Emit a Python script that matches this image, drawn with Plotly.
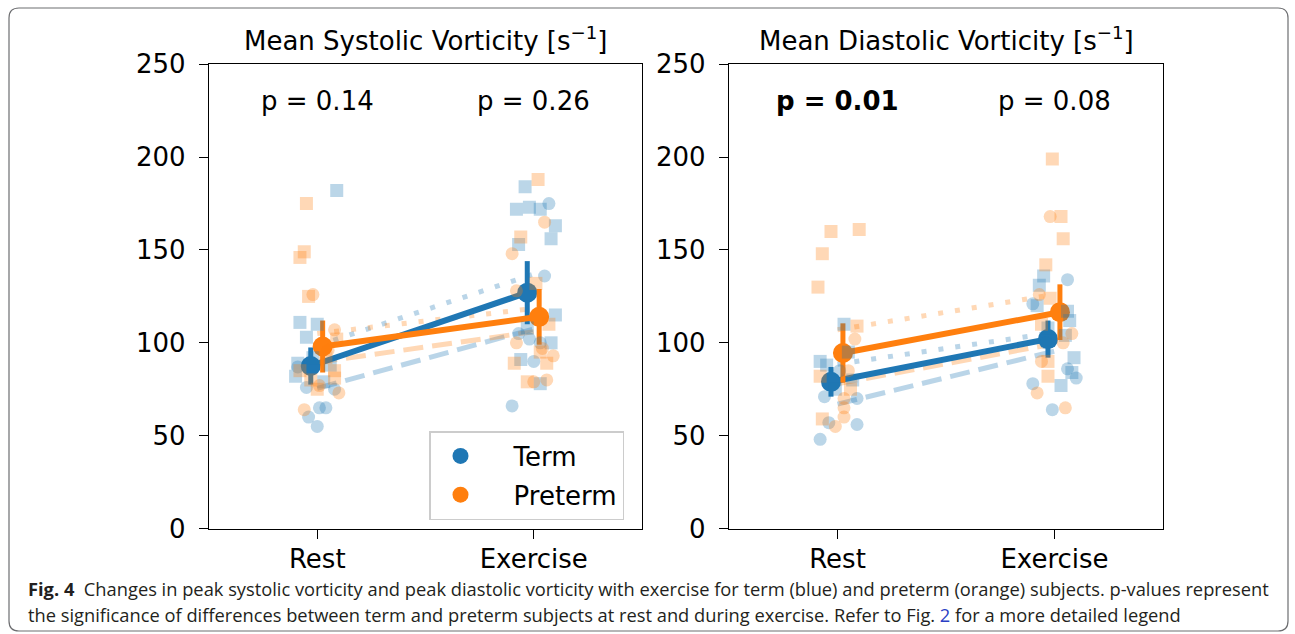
import plotly.graph_objects as go

# ---------------- data ----------------
categories = ["Rest", "Exercise"]
cat_pos = [0, 1]

# group means and error half-widths
sys_term_mean = [87.5, 127.0]
sys_term_err = [10.0, 17.0]
sys_pre_mean = [98.0, 114.0]
sys_pre_err = [14.0, 15.0]
dia_term_mean = [79.0, 102.0]
dia_term_err = [8.0, 10.0]
dia_pre_mean = [94.5, 116.5]
dia_pre_err = [16.0, 15.0]

# subgroup means (dotted = squares subgroup, dashed = circles subgroup)
sys_term_dot = [98.5, 137.0]
sys_term_dash = [75.5, 107.5]
sys_pre_dot = [105.0, 118.5]
sys_pre_dash = [89.5, 106.0]
dia_term_dot = [88.5, 105.5]
dia_term_dash = [67.0, 95.5]
dia_pre_dot = [107.0, 126.0]
dia_pre_dash = [78.0, 99.5]

# individual subjects: values and horizontal jitter (category units)
sys_rest_term_sq = [182, 111, 110, 103, 89, 82, 79, 88, 92]
sys_rest_term_sq_j = [0.09, -0.08, 0.00, -0.05, -0.09, -0.10, 0.03, 0.06, -0.02]
sys_rest_term_ci = [87, 65, 65, 60, 55, 75, 76]
sys_rest_term_ci_j = [-0.09, 0.01, 0.04, -0.04, 0.00, 0.08, -0.05]
sys_rest_pre_sq = [175, 149, 146, 125, 102, 85, 85, 81, 75, 92, 80]
sys_rest_pre_sq_j = [-0.05, -0.06, -0.08, -0.04, 0.09, -0.08, 0.08, 0.08, 0.00, 0.04, -0.03]
sys_rest_pre_ci = [126, 107, 64, 73, 77, 96]
sys_rest_pre_ci_j = [-0.02, 0.08, -0.06, 0.10, 0.01, 0.05]

sys_ex_term_sq = [184, 172, 173, 172, 163, 156, 153, 115, 100, 91, 78, 108]
sys_ex_term_sq_j = [-0.04, -0.08, -0.02, 0.03, 0.10, 0.08, -0.07, 0.10, 0.08, -0.06, 0.03, -0.03]
sys_ex_term_ci = [175, 136, 105, 102, 90, 66, 100]
sys_ex_term_ci_j = [0.07, 0.05, -0.07, -0.02, 0.00, -0.10, 0.03]
sys_ex_pre_sq = [188, 157, 132, 110, 89, 89, 79, 95]
sys_ex_pre_sq_j = [0.02, -0.06, 0.01, 0.07, -0.09, 0.06, -0.03, 0.03]
sys_ex_pre_ci = [165, 148, 128, 100, 97, 93, 79, 80]
sys_ex_pre_ci_j = [0.05, -0.10, -0.08, -0.08, 0.04, 0.09, 0.00, 0.06]

dia_rest_term_sq = [110, 90, 88, 95, 75, 80]
dia_rest_term_sq_j = [0.03, -0.08, -0.05, 0.05, -0.01, 0.07]
dia_rest_term_ci = [71, 70, 57, 56, 48, 85]
dia_rest_term_ci_j = [-0.06, 0.09, -0.04, 0.09, -0.08, 0.01]
dia_rest_pre_sq = [160, 161, 148, 130, 109, 82, 59, 75]
dia_rest_pre_sq_j = [-0.03, 0.10, -0.07, -0.09, 0.09, -0.08, -0.07, 0.06]
dia_rest_pre_ci = [102, 70, 65, 60, 55, 85]
dia_rest_pre_ci_j = [0.08, 0.03, 0.03, 0.03, -0.01, 0.05]

dia_ex_term_sq = [136, 131, 120, 117, 112, 104, 92, 77, 84, 108]
dia_ex_term_sq_j = [-0.05, -0.07, -0.08, 0.06, 0.07, 0.05, 0.09, 0.03, 0.08, -0.03]
dia_ex_term_ci = [134, 121, 86, 81, 78, 64, 100]
dia_ex_term_ci_j = [0.06, -0.10, 0.06, 0.10, -0.10, -0.01, -0.04]
dia_ex_pre_sq = [199, 168, 156, 142, 124, 90, 82, 110]
dia_ex_pre_sq_j = [-0.01, 0.03, 0.04, -0.04, -0.02, -0.03, -0.03, -0.06]
dia_ex_pre_ci = [168, 126, 105, 100, 90, 73, 65]
dia_ex_pre_ci_j = [-0.02, -0.07, 0.08, 0.04, -0.06, -0.08, 0.05]

p_labels_sys = ["p = 0.14", "p = 0.26"]
p_labels_dia = ["<b>p = 0.01</b>", "p = 0.08"]
p_label_y = 230

titles = ["Mean Systolic Vorticity [s<sup>−1</sup>]", "Mean Diastolic Vorticity [s<sup>−1</sup>]"]
legend_names = ["Term", "Preterm"]
y_ticks = [0, 50, 100, 150, 200, 250]

BLUE = "#1f77b4"
ORANGE = "#ff7f0e"
W, H = 1295, 634
FS = 26

fig = go.Figure()


def px(x):
    return x / W


def py(y):
    return 1 - y / H


def add_panel(xa, ya, term_dot, term_dash, pre_dot, pre_dash,
              term_mean, term_err, pre_mean, pre_err, pts):
    for vals, col, dash in [(term_dot, BLUE, "5px,12px"), (term_dash, BLUE, "20px,9px"),
                            (pre_dot, ORANGE, "5px,12px"), (pre_dash, ORANGE, "20px,9px")]:
        fig.add_trace(go.Scatter(x=cat_pos, y=vals, mode="lines", xaxis=xa, yaxis=ya,
                                 line=dict(color=col, width=5, dash=dash), opacity=0.3,
                                 showlegend=False, hoverinfo="skip"))
    for mean, err, col, off in [(term_mean, term_err, BLUE, -0.03), (pre_mean, pre_err, ORANGE, 0.025)]:
        fig.add_trace(go.Scatter(x=[c + off for c in cat_pos], y=mean, mode="lines+markers",
                                 xaxis=xa, yaxis=ya,
                                 line=dict(color=col, width=6),
                                 marker=dict(color=col, size=20),
                                 error_y=dict(type="data", array=err, color=col, thickness=5, width=0),
                                 showlegend=False))
    for vals, jit, cat, col, sym in pts:
        fig.add_trace(go.Scatter(x=[cat + j for j in jit], y=vals, mode="markers",
                                 xaxis=xa, yaxis=ya,
                                 marker=dict(color=col, size=13, symbol=sym, opacity=0.3,
                                             line=dict(width=0)),
                                 showlegend=False, hoverinfo="skip"))


add_panel("x", "y", sys_term_dot, sys_term_dash, sys_pre_dot, sys_pre_dash,
          sys_term_mean, sys_term_err, sys_pre_mean, sys_pre_err,
          [(sys_rest_term_sq, sys_rest_term_sq_j, 0, BLUE, "square"),
           (sys_rest_term_ci, sys_rest_term_ci_j, 0, BLUE, "circle"),
           (sys_rest_pre_sq, sys_rest_pre_sq_j, 0, ORANGE, "square"),
           (sys_rest_pre_ci, sys_rest_pre_ci_j, 0, ORANGE, "circle"),
           (sys_ex_term_sq, sys_ex_term_sq_j, 1, BLUE, "square"),
           (sys_ex_term_ci, sys_ex_term_ci_j, 1, BLUE, "circle"),
           (sys_ex_pre_sq, sys_ex_pre_sq_j, 1, ORANGE, "square"),
           (sys_ex_pre_ci, sys_ex_pre_ci_j, 1, ORANGE, "circle")])

add_panel("x2", "y2", dia_term_dot, dia_term_dash, dia_pre_dot, dia_pre_dash,
          dia_term_mean, dia_term_err, dia_pre_mean, dia_pre_err,
          [(dia_rest_term_sq, dia_rest_term_sq_j, 0, BLUE, "square"),
           (dia_rest_term_ci, dia_rest_term_ci_j, 0, BLUE, "circle"),
           (dia_rest_pre_sq, dia_rest_pre_sq_j, 0, ORANGE, "square"),
           (dia_rest_pre_ci, dia_rest_pre_ci_j, 0, ORANGE, "circle"),
           (dia_ex_term_sq, dia_ex_term_sq_j, 1, BLUE, "square"),
           (dia_ex_term_ci, dia_ex_term_ci_j, 1, BLUE, "circle"),
           (dia_ex_pre_sq, dia_ex_pre_sq_j, 1, ORANGE, "square"),
           (dia_ex_pre_ci, dia_ex_pre_ci_j, 1, ORANGE, "circle")])

# legend entries
for name, col in zip(legend_names, [BLUE, ORANGE]):
    fig.add_trace(go.Scatter(x=[None], y=[None], mode="markers", name="\u00a0" * 4 + name,
                             marker=dict(color=col, size=22), legendgroup=name,
                             showlegend=True, xaxis="x", yaxis="y"))

FONT = "DejaVu Sans"
axis_common = dict(showline=True, mirror=True, linecolor="black", linewidth=1.3,
                   ticks="outside", ticklen=9, tickwidth=1.3, tickcolor="black",
                   showgrid=False, zeroline=False, automargin=False,
                   tickfont=dict(family=FONT, size=FS, color="black"))

xd1 = [px(209), px(642)]
xd2 = [px(729), px(1163)]
yd = [py(528.5), py(64.3)]

fig.update_layout(
    width=W, height=H,
    margin=dict(l=0, r=0, t=0, b=0, pad=0, autoexpand=False),
    paper_bgcolor="white", plot_bgcolor="white",
    xaxis=dict(domain=xd1, range=[-0.5, 1.5], tickvals=cat_pos, ticktext=categories, anchor="y",
               ticklabelstandoff=-2, **axis_common),
    yaxis=dict(domain=yd, range=[0, 250], tickvals=y_ticks, anchor="x", ticklabelstandoff=8, **axis_common),
    xaxis2=dict(domain=xd2, range=[-0.5, 1.5], tickvals=cat_pos, ticktext=categories, anchor="y2",
                ticklabelstandoff=-2, **axis_common),
    yaxis2=dict(domain=yd, range=[0, 250], tickvals=y_ticks, anchor="x2", ticklabelstandoff=8, **axis_common),
    showlegend=True,
    legend=dict(x=px(429), y=py(431), xanchor="left", yanchor="top",
                bgcolor="white", bordercolor="#cccccc", borderwidth=1.5,
                font=dict(family=FONT, size=FS, color="black"),
                tracegroupgap=2, indentation=10, itemsizing="trace"),
)

ann = []
for t, xa0, xa1 in [(titles[0], 209, 642), (titles[1], 729, 1163)]:
    ann.append(dict(text=t, x=px((xa0 + xa1) / 2), y=py(39), xref="paper", yref="paper",
                    xanchor="center", yanchor="middle", showarrow=False,
                    font=dict(family=FONT, size=FS, color="black")))
for labels, xr, yr in [(p_labels_sys, "x", "y"), (p_labels_dia, "x2", "y2")]:
    for lab, c in zip(labels, cat_pos):
        ann.append(dict(text=lab, x=c, y=p_label_y, xref=xr, yref=yr, showarrow=False,
                        xanchor="center", yanchor="middle",
                        font=dict(family=FONT, size=FS, color="black")))

CAP = "Open Sans"
CAP_FS = 18.3
cap1 = ("<b>Fig. 4</b>  Changes in peak systolic vorticity and peak diastolic vorticity with exercise for term (blue) "
        "and preterm (orange) subjects. p-values represent")
cap2 = ("the significance of differences between term and preterm subjects at rest and during exercise. "
        "Refer to Fig. <span style='color:#2b3fc4'>2</span> for a more detailed legend")
ann.append(dict(text=cap1, x=px(26), y=py(588), xref="paper", yref="paper", xanchor="left",
                yanchor="middle", showarrow=False, font=dict(family=CAP, size=CAP_FS, color="#231f20")))
ann.append(dict(text=cap2, x=px(26), y=py(614), xref="paper", yref="paper", xanchor="left",
                yanchor="middle", showarrow=False, font=dict(family=CAP, size=CAP_FS, color="#231f20")))
fig.update_layout(annotations=ann)

# rounded frame around the figure
x0, x1, y0, y1, r = 9, 1288, 8, 631, 10
path = (f"M {px(x0 + r)} {py(y0)} L {px(x1 - r)} {py(y0)} Q {px(x1)} {py(y0)} {px(x1)} {py(y0 + r)} "
        f"L {px(x1)} {py(y1 - r)} Q {px(x1)} {py(y1)} {px(x1 - r)} {py(y1)} "
        f"L {px(x0 + r)} {py(y1)} Q {px(x0)} {py(y1)} {px(x0)} {py(y1 - r)} "
        f"L {px(x0)} {py(y0 + r)} Q {px(x0)} {py(y0)} {px(x0 + r)} {py(y0)} Z")
fig.add_shape(type="path", path=path, xref="paper", yref="paper",
              line=dict(color="#6d6e71", width=1.2), layer="below")

fig.write_html("out.html")
